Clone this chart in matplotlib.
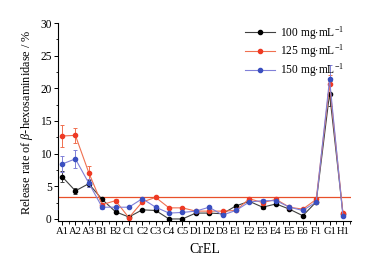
import matplotlib
matplotlib.use("Agg")
import matplotlib.pyplot as plt
from matplotlib.ticker import MultipleLocator
from matplotlib.lines import Line2D
import numpy as np

categories = ["A1","A2","A3","B1","B2","C1","C2","C3","C4","C5","D1","D2","D3",
              "E1","E2","E3","E4","E5","E6","F1","G1","H1"]
v100 = [6.5,4.3,5.4,3.0,1.1,0.3,1.4,1.3,0.0,0.0,0.9,0.9,0.8,2.0,2.7,1.8,2.3,1.5,0.5,2.6,19.2,0.8]
v125 = [12.7,12.8,7.1,2.2,2.8,0.2,2.6,3.3,1.7,1.7,1.2,1.2,1.2,1.3,3.1,2.5,3.0,1.8,1.5,3.0,20.6,0.9]
v150 = [8.4,9.2,5.5,1.8,1.8,1.8,3.1,1.8,0.9,1.0,1.2,1.8,0.6,1.3,2.6,2.8,2.8,1.8,1.3,2.6,21.4,0.4]
e100 = [0.8,0.5,0.5,0.3,0.2,0.1,0.1,0.1,0.1,0.1,0.1,0.1,0.1,0.1,0.2,0.2,0.2,0.1,0.1,0.2,1.9,0.1]
e125 = [1.7,1.2,1.0,0.3,0.2,0.1,0.2,0.2,0.1,0.1,0.1,0.1,0.1,0.1,0.3,0.2,0.2,0.1,0.1,0.2,1.5,0.1]
e150 = [1.2,1.4,0.6,0.3,0.2,0.1,0.3,0.2,0.1,0.1,0.1,0.2,0.1,0.1,0.2,0.2,0.3,0.1,0.1,0.2,2.1,0.1]
labels = ["100 mg$\\cdot$mL$^{-1}$", "125 mg$\\cdot$mL$^{-1}$", "150 mg$\\cdot$mL$^{-1}$"]
threshold = 3.3

plt.rcParams['font.family'] = ['Liberation Serif', 'DejaVu Serif']
plt.rcParams['mathtext.fontset'] = 'custom'
plt.rcParams['mathtext.rm'] = 'Liberation Serif'
plt.rcParams['mathtext.it'] = 'Liberation Serif:italic'

fig = plt.figure(figsize=(3.84, 2.63), dpi=100)
ax = fig.add_axes([0.151, 0.160, 0.763, 0.7525])
x = np.arange(len(categories))

series = [(v100, e100, '#000000', '#404040'),
          (v125, e125, '#ee3a24', '#f07050'),
          (v150, e150, '#3a4fc0', '#8080d8')]
handles = []
for (v, e, mc, lc), lab in zip(series, labels):
    ax.errorbar(x, v, yerr=e, color=lc, lw=0.8, marker='o', ms=3,
                mfc=mc, mec=mc, ecolor=lc, elinewidth=0.7, capsize=1.5,
                capthick=0.7)
    handles.append(Line2D([], [], color=lc, lw=0.8, marker='o', ms=3,
                          mfc=mc, mec=mc, label=lab))

ax.axhline(threshold, color='#e8502a', lw=0.9)

ax.set_xlim(-0.3, 21.6)
ax.set_ylim(-0.3, 30)
ax.set_xticks(x)
ax.set_xticklabels(categories)
ax.xaxis.set_minor_locator(MultipleLocator(0.5))
ax.yaxis.set_major_locator(MultipleLocator(5))
ax.yaxis.set_minor_locator(MultipleLocator(2.5))
ax.tick_params(axis='both', which='major', length=3, width=0.7, labelsize=8.3, pad=1.5)
ax.tick_params(axis='x', which='major', labelsize=7.6)
ax.tick_params(axis='both', which='minor', length=1.8, width=0.6)
for s in ['top', 'right']:
    ax.spines[s].set_visible(False)
for s in ['left', 'bottom']:
    ax.spines[s].set_linewidth(0.8)

ax.set_xlabel("CrEL", fontsize=10, labelpad=5)
ax.set_ylabel("Release rate of $\\mathit{\\beta}$-hexosaminidase / %", fontsize=8.8, labelpad=4)
leg = ax.legend(handles=handles, loc='upper right', bbox_to_anchor=(1.0, 1.03), frameon=False,
                fontsize=8.3, handlelength=2.6, handletextpad=0.4, labelspacing=0.1,
                borderaxespad=0.2)

fig.savefig("out.png", dpi=100)
